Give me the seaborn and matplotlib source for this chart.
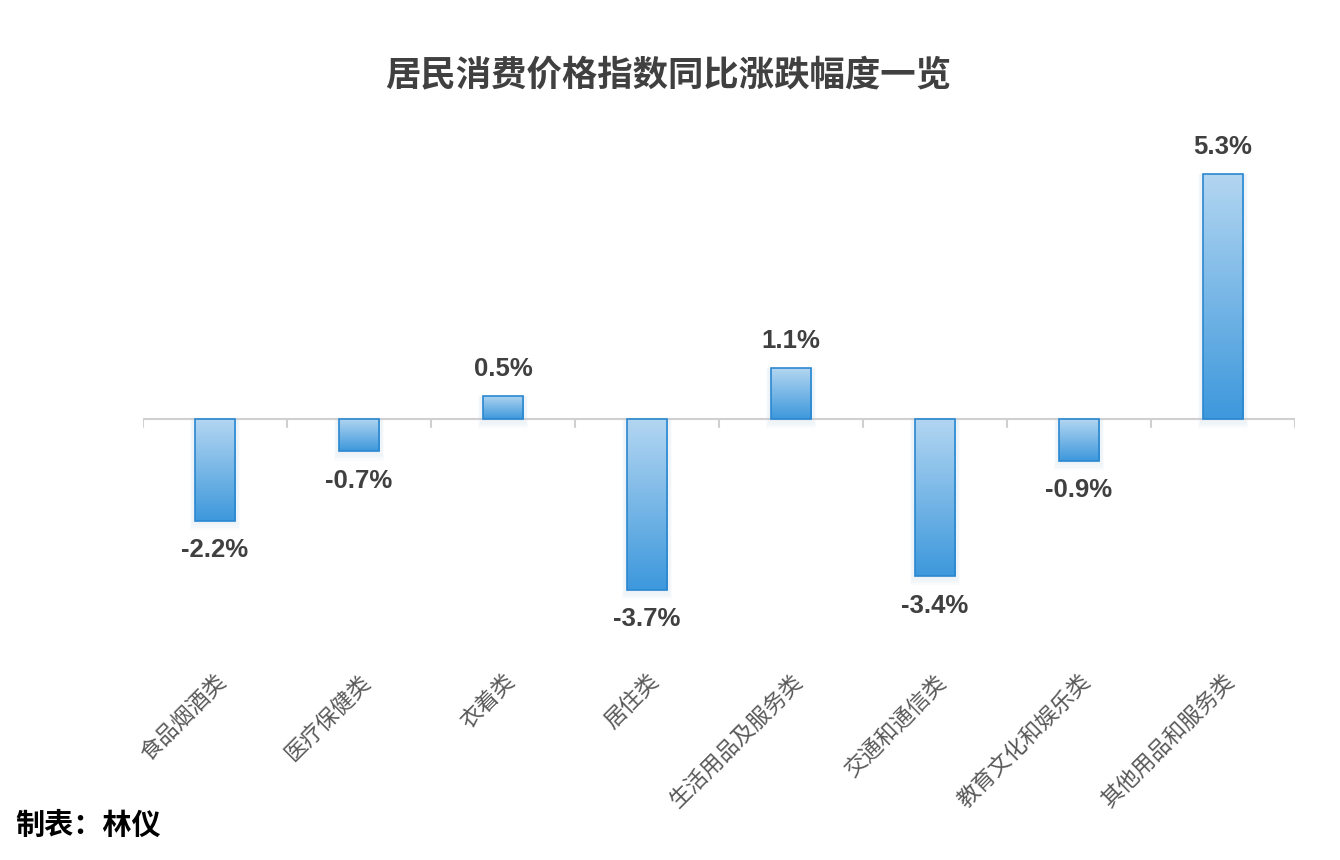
import numpy as np
import pandas as pd
import seaborn as sns
import matplotlib.pyplot as plt
from matplotlib.colors import LinearSegmentedColormap

# données
categories = ["食品烟酒类", "医疗保健类", "衣着类", "居住类",
              "生活用品及服务类", "交通和通信类", "教育文化和娱乐类", "其他用品和服务类"]
values = [-2.2, -0.7, 0.5, -3.7, 1.1, -3.4, -0.9, 5.3]
value_labels = ["-2.2%", "-0.7%", "0.5%", "-3.7%", "1.1%", "-3.4%", "-0.9%", "5.3%"]

df = pd.DataFrame({"cat": categories, "val": values})

sns.set_theme(style="white")
plt.rcParams["font.family"] = ["Noto Sans CJK SC", "DejaVu Sans"]

fig = plt.figure(figsize=(13.4, 8.6), dpi=100)
ax = fig.add_axes([143 / 1340, 1 - 660 / 860, (1295 - 143) / 1340, (660 - 130) / 860])

sns.barplot(data=df, x="cat", y="val", ax=ax, width=0.28,
            color="#6aaee3", edgecolor="#2a88d0", linewidth=1.2, zorder=3)

ax.set_ylim(-(660 - 419) / 46.2, (419 - 130) / 46.2)

# dégradé dans chaque barre (clair en haut, foncé en bas)
cmap = LinearSegmentedColormap.from_list("bleu", ["#b3d6f1", "#3d98dc"])
grad = np.linspace(0, 1, 256).reshape(-1, 1)
for p in list(ax.patches):
    x0, y0 = p.get_x(), p.get_y()
    w, h = p.get_width(), p.get_height()
    ylo, yhi = min(y0, y0 + h), max(y0, y0 + h)
    im = ax.imshow(grad, cmap=cmap, aspect="auto", extent=[x0, x0 + w, ylo, yhi],
                   origin="upper", zorder=3, interpolation="bicubic")
    im.set_clip_path(p)
    p.set_facecolor("none")
    p.set_zorder(4)
    # ombre légère autour de la barre
    for k in range(1, 5):
        ax.bar(x0 + w / 2, yhi - ylo + 0.05 * k, bottom=ylo - 0.05 * k,
               width=w + 0.018 * k, color="#b8cde0", alpha=0.07, zorder=2, linewidth=0)

ax.set_xlim(-0.5, len(categories) - 0.5)

# ligne du zéro et petites graduations
ax.axhline(0, color="#d0d0d0", lw=1.5, zorder=1)
for b in np.arange(-0.5, len(categories), 1):
    ax.plot([b, b], [0, -0.18], color="#d0d0d0", lw=1.5, zorder=1)

# étiquettes de valeurs
for i, (v, lab) in enumerate(zip(values, value_labels)):
    off = 0.33 if v >= 0 else -0.38
    ax.text(i, v + off, lab, ha="center", va="bottom" if v >= 0 else "top",
            fontsize=18.5, fontweight="bold", color="#404040",
            family=["Liberation Sans", "DejaVu Sans"])

for s in ax.spines.values():
    s.set_visible(False)
ax.set_yticks([])
ax.set_xlabel("")
ax.set_ylabel("")
ax.set_xticks(range(len(categories)))
ax.set_xticklabels(categories, rotation=45, ha="right", rotation_mode="anchor",
                   fontsize=16, color="#595959")
ax.tick_params(axis="x", length=0, pad=7)

fig.text(668 / 1340, 1 - 75 / 860, "居民消费价格指数同比涨跌幅度一览", ha="center", va="center",
         fontsize=25.5, fontweight="bold", color="#404040")
fig.text(15 / 1340, 1 - 825 / 860, "制表：林仪", ha="left", va="center",
         fontsize=21, fontweight="bold", color="#000000")

fig.savefig("out.png", dpi=100, facecolor="white")
